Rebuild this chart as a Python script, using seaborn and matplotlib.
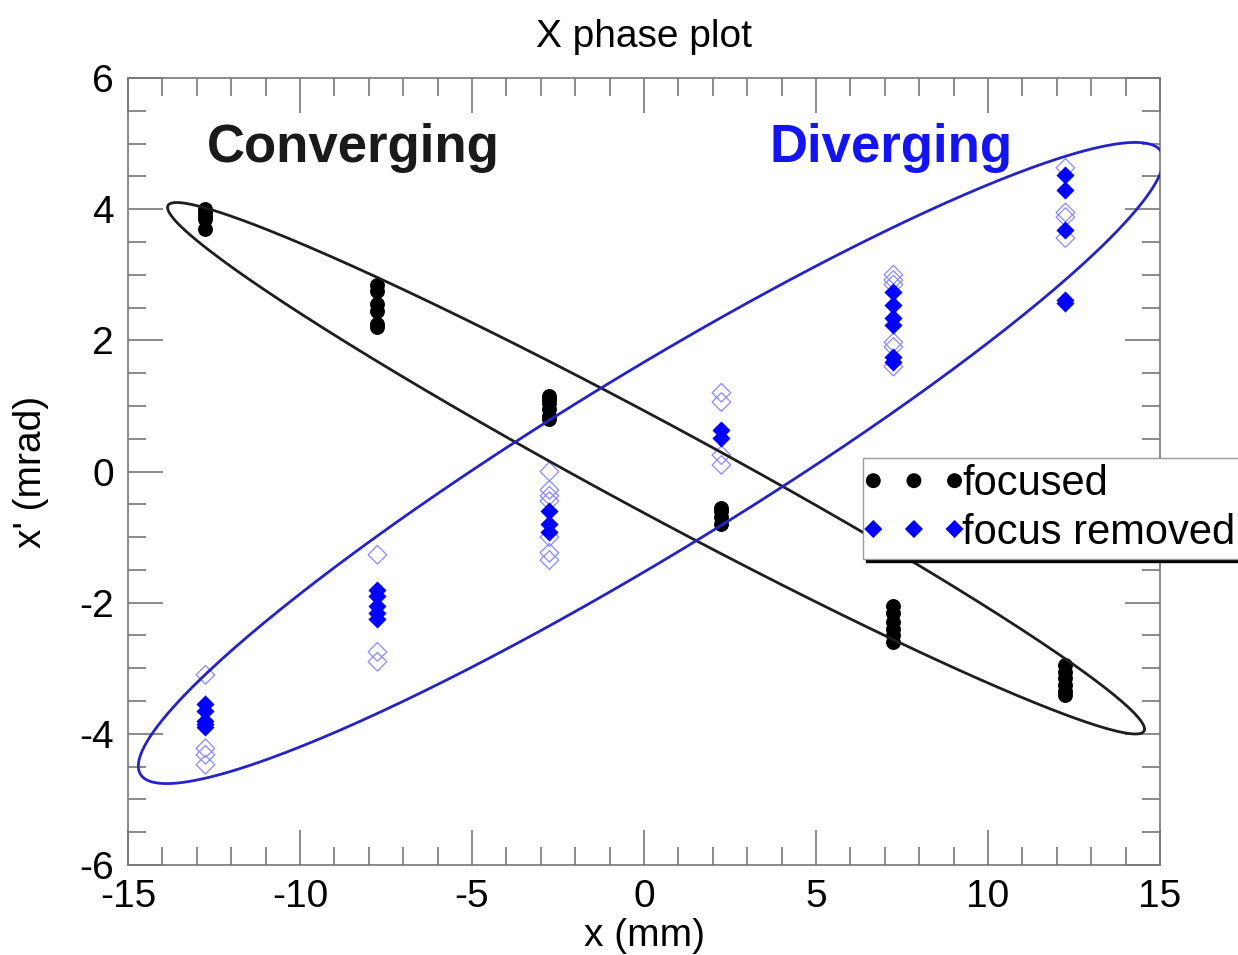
import numpy as np
import pandas as pd
import matplotlib.pyplot as plt
import seaborn as sns
from matplotlib.collections import PathCollection
from matplotlib.legend_handler import HandlerPathCollection
from matplotlib.ticker import MultipleLocator

# beam positions at the six scan columns (mm)
x_cols = [-12.75, -7.75, -2.75, 2.25, 7.25, 12.25]

# x' readings (mrad) per column
focused = [
    [4.0, 3.95, 3.9, 3.85, 3.7],
    [2.85, 2.75, 2.55, 2.45, 2.25, 2.2],
    [1.15, 1.1, 1.05, 0.95, 0.85, 0.8],
    [-0.55, -0.6, -0.7, -0.8],
    [-2.05, -2.15, -2.3, -2.4, -2.5, -2.6],
    [-2.95, -3.05, -3.15, -3.25, -3.35, -3.4],
]
removed = [
    [-3.55, -3.65, -3.8, -3.85, -3.9],
    [-1.8, -1.9, -2.05, -2.15, -2.25],
    [-0.6, -0.8, -0.92],
    [0.63, 0.51],
    [2.74, 2.54, 2.34, 2.23, 1.75, 1.67],
    [4.52, 4.29, 3.68, 2.62, 2.57],
]
removed_open = [
    [-3.1, -4.22, -4.32, -4.47],
    [-1.27, -2.75, -2.9],
    [0.0, -0.28, -0.37, -0.45, -1.0, -1.24, -1.35],
    [1.2, 1.06, 0.25, 0.1],
    [3.0, 2.92, 2.85, 1.97, 1.9, 1.6],
    [4.63, 3.95, 3.88, 3.56],
]

# ellipse fits: centre x, centre y, x half-width, slope, half-height about the slope line
conv_fit = [0.35, 0.05, 14.2, -0.28, 0.78]
div_fit = [0.2, 0.13, 14.9, 0.31, 1.6]


def to_frame(cols):
    rows = [(x, y) for x, ys in zip(x_cols, cols) for y in ys]
    return pd.DataFrame(rows, columns=["x", "xp"])


def ellipse(fit, n=400):
    cx, cy, a, m, h = fit
    t = np.linspace(0, 2 * np.pi, n)
    dx = a * np.cos(t)
    return cx + dx, cy + m * dx + h * np.sin(t)


sns.set_style("ticks")
plt.rcParams["font.family"] = ["Liberation Sans", "DejaVu Sans"]
plt.rcParams["axes.unicode_minus"] = False
plt.rcParams["text.color"] = "black"
plt.rcParams["axes.labelcolor"] = "black"

fig = plt.figure(figsize=(12.38, 9.55), dpi=100)
ax = fig.add_axes([0.1034, 0.0942, 0.8336, 0.8241])

sns.scatterplot(data=to_frame(removed_open), x="x", y="xp", ax=ax, marker="D",
                s=90, color="#8a8aff", facecolor="none", edgecolor="#8a8aff",
                linewidth=0.9, zorder=2)
sns.scatterplot(data=to_frame(removed), x="x", y="xp", ax=ax, marker="D",
                s=85, color="#0000ff", edgecolor="#0000ff", linewidth=0,
                label="focus removed", zorder=3)
sns.scatterplot(data=to_frame(focused), x="x", y="xp", ax=ax, marker="o",
                s=115, color="black", edgecolor="black", linewidth=0,
                label="focused", zorder=4)

ex, ey = ellipse(conv_fit)
ax.plot(ex, ey, color="#1e1e1e", lw=2, zorder=5)
ex, ey = ellipse(div_fit)
ax.plot(ex, ey, color="#2323c8", lw=2, zorder=5)

ax.text(-12.7, 4.72, "Converging", fontsize=38, fontweight="bold", color="#1a1a1a")
ax.text(3.66, 4.72, "Diverging", fontsize=38, fontweight="bold", color="#1414f0")

ax.set_xlim(-15, 15)
ax.set_ylim(-6, 6)
ax.xaxis.set_major_locator(MultipleLocator(5))
ax.xaxis.set_minor_locator(MultipleLocator(1))
ax.yaxis.set_major_locator(MultipleLocator(2))
ax.yaxis.set_minor_locator(MultipleLocator(0.5))
ax.tick_params(which="both", direction="in", top=True, right=True,
               color="#777777", width=1.2, labelsize=28, pad=10,
               labelcolor="black")
ax.tick_params(which="major", length=25)
ax.tick_params(which="minor", length=13)
for sp in ax.spines.values():
    sp.set_color("#777777")
    sp.set_linewidth(1.2)

ax.set_title("X phase plot", fontsize=28, pad=22, color="black")
ax.set_xlabel("x (mm)", fontsize=28, labelpad=2)
ax.set_ylabel("x' (mrad)", fontsize=28, labelpad=22)

handles, labels = ax.get_legend_handles_labels()
order = [labels.index("focused"), labels.index("focus removed")]
leg = ax.legend([handles[i] for i in order], [labels[i] for i in order],
                loc="upper left", bbox_to_anchor=(0.697, 0.5204),
                bbox_transform=fig.transFigure, scatterpoints=3,
                scatteryoffsets=[0.5], fontsize=30, frameon=True,
                fancybox=False, shadow={"color": "black", "alpha": 1},
                borderpad=0.15, borderaxespad=0, handlelength=2.15,
                handletextpad=0.08, labelspacing=0.2, framealpha=1,
                handler_map={PathCollection: HandlerPathCollection(marker_pad=0.1)})
leg.get_frame().set_edgecolor("#999999")
leg.set_zorder(10)

fig.savefig("out.png", dpi=100)
